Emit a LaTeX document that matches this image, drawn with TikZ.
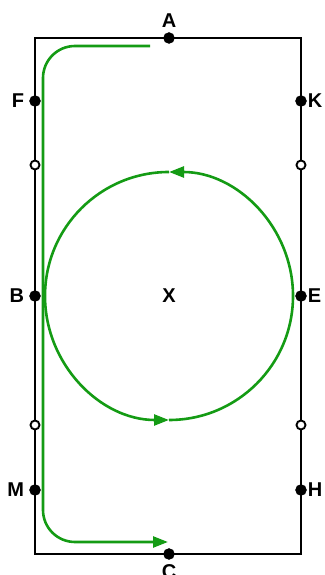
\documentclass[tikz,border=0pt]{standalone}
\usepackage{fontspec}
\setmainfont{Liberation Sans}
\usepackage{xcolor}
\usetikzlibrary{arrows.meta, positioning}
\definecolor{TrackGreen}{RGB}{20,155,20}
\tikzset{
  dotB/.style={circle, draw=black, fill=black,
               inner sep=0pt, minimum size=11pt},
  dotW/.style={circle, draw=black, fill=white, line width=1.9pt,
               inner sep=0pt, minimum size=9pt},
  letter/.style={font=\fontsize{20}{22}\selectfont\bfseries, inner sep=0pt},
  track/.style={draw=TrackGreen, line width=2.6pt},
  tip/.style={-{Triangle[length=15pt, width=11pt]}},
}

\begin{document}
\begin{tikzpicture}[x=1pt, y=1pt]
    \useasboundingbox (0,0) rectangle (324,575);
    %% arena
    \draw[line width=1.8pt] (35,21) rectangle (301,537);
    %% green track along the side and round the circle
    \coordinate (t1) at (150,529);
    \coordinate (t2) at (43,529);
    \coordinate (t3) at (43,33);
    \coordinate (t4) at (168,33);
    \draw[track, tip, rounded corners=32pt] (t1) -- (t2) -- (t3) -- (t4);
    \node[letter] (X) at (169,279) {X};
    \coordinate (cb) at (169,155);
    \coordinate (ct) at (169,403);
    \draw[track, tip] (cb) arc[start angle=-90, end angle=90, radius=124];
    \draw[track, tip] (ct) arc[start angle=90, end angle=270, radius=124];
    %% letter markers
    \node[dotB] (A) at (169,537) {};
    \node[dotB] (C) at (169,21)  {};
    \node[dotB] (F) at (35,474)  {};
    \node[dotB] (K) at (301,474) {};
    \node[dotB] (B) at (35,279)  {};
    \node[dotB] (E) at (301,279) {};
    \node[dotB] (M) at (35,85)   {};
    \node[dotB] (H) at (301,85)  {};
    \node[dotW] (w1) at (35,410)  {};
    \node[dotW] (w2) at (301,410) {};
    \node[dotW] (w3) at (35,150)  {};
    \node[dotW] (w4) at (301,150) {};
    %% letters
    \node[letter, above=5pt of A] (lA) {A};
    \node[letter, below=5pt of C] (lC) {C};
    \node[letter, left=5pt of F]  (lF) {F};
    \node[letter, left=5pt of B]  (lB) {B};
    \node[letter, left=5pt of M]  (lM) {M};
    \node[letter, right=1pt of K] (lK) {K};
    \node[letter, right=1pt of E] (lE) {E};
    \node[letter, right=1pt of H] (lH) {H};
\end{tikzpicture}
\end{document}
